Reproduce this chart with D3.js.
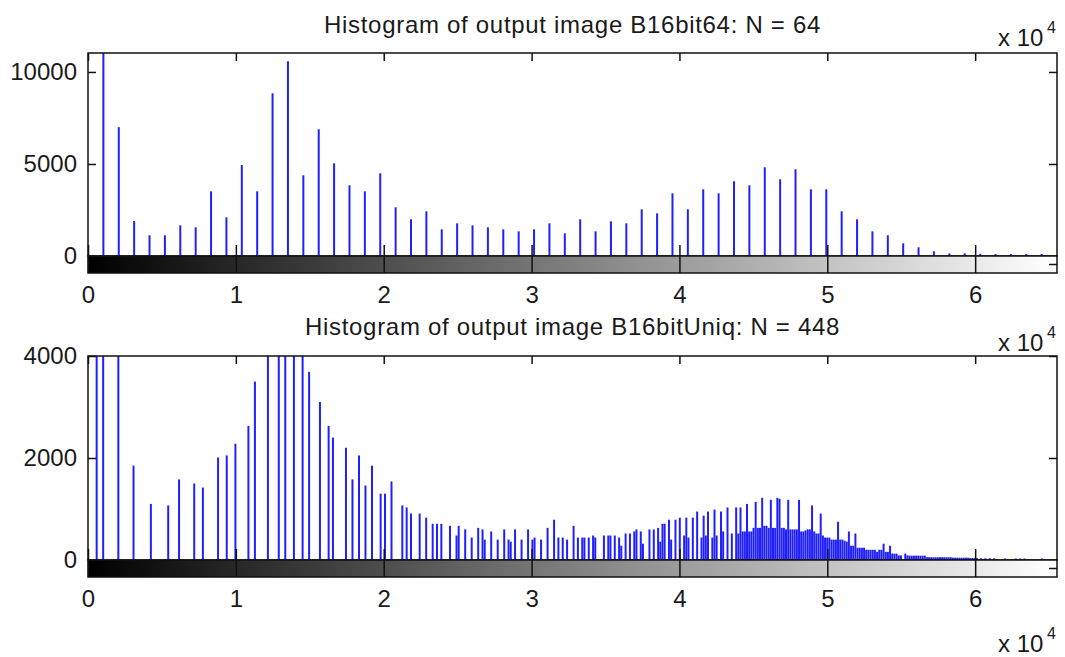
<!DOCTYPE html>
<html>
<head>
<meta charset="utf-8">
<script src="https://cdn.jsdelivr.net/npm/d3@7"></script>
<style>
  html, body { margin: 0; padding: 0; background: #fff; }
  svg { display: block; }
  text { font-family: "Liberation Sans", Arial, sans-serif; fill: #1a1a1a; }
</style>
</head>
<body>
<svg id="chart" width="1065" height="657"></svg>
<script>
// ---------------- DATA ----------------
const titleTop = "Histogram of output image B16bit64: N = 64";
const titleBottom = "Histogram of output image B16bitUniq: N = 448";
const xTickValues = [0, 10000, 20000, 30000, 40000, 50000, 60000];
const xTickLabels = ["0", "1", "2", "3", "4", "5", "6"];
const yTicksTop = [0, 5000, 10000];
const yTicksBottom = [0, 2000, 4000];
const nBinsTop = 64;
const nBinsBottom = 448;
const maxValue = 65535;

// counts for the 64-bin histogram (bin 0 .. 63)
const countsTop = [
  0, 11500, 7000, 1900, 1125, 1125, 1667, 1560, 3514, 2100,
  4946, 3514, 8841, 10580, 4384, 6884, 5036, 3841, 3514, 4493,
  2645, 1993, 2428, 1449, 1775, 1667, 1558, 1449, 1340, 1449,
  1775, 1232, 1993, 1340, 1884, 1775, 2536, 2319, 3406, 2536,
  3623, 3406, 4058, 3841, 4819, 4167, 4710, 3623, 3623, 2428,
  1993, 1340, 1125, 690, 473, 255, 145, 145, 120, 110,
  110, 110, 110, 0
];

// 448-bin histogram: occupied bin indices and their counts (all other bins are 0)
const binsBottom = [
  4, 7, 14, 21, 29, 37, 42, 49, 53, 60, 64, 68, 74, 77,
  83, 88, 91, 95, 99, 102, 107, 111, 113, 119, 122, 125, 128, 131, 135, 137, 140, 145, 147, 149, 153,
  156, 159, 161, 163, 167, 170, 171, 174, 177, 180, 182, 183, 186, 189, 192, 194, 195, 197, 200,
  203, 205, 206, 209, 212, 215, 217, 219, 221, 224, 226, 228, 229, 231,
  233, 234, 238, 240, 241, 243, 245, 246, 248, 250, 252, 253, 255, 256, 259, 261, 263, 264, 265, 266,
  268, 269, 271, 273, 275, 276, 277, 279, 281, 283, 284, 285, 286, 288, 289, 290, 292, 293, 295, 297,
  299, 300, 301, 302, 303, 304, 305, 306, 307, 308, 309, 310, 311, 312, 313, 314, 315, 316, 317, 318,
  319, 320, 321, 322, 323, 324, 325, 326, 327, 328, 329, 330, 331, 332, 333, 334, 335, 336, 337, 338,
  339, 340, 341, 342, 343, 344, 345, 346, 347, 348, 349, 350, 351, 352, 353, 354, 355, 356, 357, 358,
  359, 360, 361, 362, 363, 364, 365, 366, 367, 368, 369, 370, 371, 372, 373, 374, 375, 377, 378, 379,
  380, 381, 382, 383, 384, 385, 386, 387, 388, 389, 390, 391, 392, 393, 394, 395, 396, 397, 398, 399,
  400, 401, 402, 403, 404, 405, 406, 407, 408, 409, 410, 412, 414, 416, 418, 423, 428, 430, 432, 440
];
const countsBottom = [
  5200, 6000, 4800, 1850, 1100, 1070, 1580, 1500, 1420, 2010, 2050, 2280, 2630, 3500,
  4600, 4500, 5400, 5600, 4400, 3690, 3100, 2630, 2400, 2200, 1580, 2050, 1460, 1850, 1300, 1300, 1540, 1070, 1030, 910, 910,
  830, 710, 710, 710, 670, 480, 670, 600, 440, 630, 600, 400, 560, 400, 600, 400, 360, 600, 400,
  600, 400, 440, 400, 630, 790, 440, 440, 400, 670, 440, 440, 440, 440,
  480, 440, 480, 480, 480, 480, 440, 280, 520, 520, 560, 600, 560, 320, 600, 600, 630, 360, 710, 710,
  790, 400, 790, 830, 480, 830, 440, 830, 950, 440, 870, 480, 950, 440, 990, 480, 950, 560, 1030, 520,
  1030, 520, 1030, 560, 560, 1100, 560, 560, 630, 1140, 630, 630, 1220, 670, 670, 630, 1180, 630, 630, 1220,
  1200, 630, 630, 600, 1180, 600, 600, 600, 600, 1180, 560, 560, 580, 600, 600, 1070, 560, 520, 520, 910,
  480, 440, 440, 440, 400, 400, 400, 750, 400, 400, 380, 360, 560, 280, 280, 520, 240, 240, 240, 240,
  200, 200, 200, 200, 200, 160, 200, 200, 320, 160, 160, 280, 125, 125, 125, 90, 90, 125, 90, 85,
  85, 85, 85, 85, 85, 85, 85, 55, 55, 55, 55, 55, 55, 55, 55, 55, 55, 55, 55, 45,
  45, 45, 45, 45, 45, 45, 45, 40, 40, 40, 40, 35, 35, 35, 35, 30, 30, 30, 30, 30
];

// ---------------- LAYOUT ----------------
const svg = d3.select("#chart");
const W = 1065, H = 657;
svg.append("rect").attr("width", W).attr("height", H).attr("fill", "#fff");

const left = 88, right = 1057;
const panels = [
  { title: titleTop, top: 53, zero: 256, cbBottom: 273, yMax: 11030, yTicks: yTicksTop,
    nBins: nBinsTop, bins: countsTop.map((c, i) => i), counts: countsTop,
    titleY: 33, expY: 46 },
  { title: titleBottom, top: 356, zero: 560, cbBottom: 577, yMax: 4000, yTicks: yTicksBottom,
    nBins: nBinsBottom, bins: binsBottom, counts: countsBottom,
    titleY: 335, expY: 351 }
];

const x = d3.scaleLinear().domain([0, maxValue]).range([left, right]);

const defs = svg.append("defs");
const grad = defs.append("linearGradient").attr("id", "gray").attr("x1", "0%").attr("x2", "100%");
grad.append("stop").attr("offset", "0%").attr("stop-color", "#000");
grad.append("stop").attr("offset", "100%").attr("stop-color", "#fff");

const axisColor = "#111";
const fontSize = 24;

function expLabel(g, baseY) {
  g.append("text").attr("x", 998).attr("y", baseY).attr("font-size", fontSize).text("x 10");
  g.append("text").attr("x", 1047).attr("y", baseY - 13).attr("font-size", 16).text("4");
}

panels.forEach((p, pi) => {
  const g = svg.append("g");
  const y = d3.scaleLinear().domain([0, p.yMax]).range([p.zero, p.top]);

  defs.append("clipPath").attr("id", "clip" + pi)
    .append("rect").attr("x", left).attr("y", p.top).attr("width", right - left).attr("height", p.zero - p.top);

  // stems
  const binW = maxValue / (p.nBins - 1);
  g.append("g").attr("clip-path", `url(#clip${pi})`)
    .selectAll("line").data(p.bins.map((b, i) => ({ b, c: p.counts[i] })).filter(d => d.c > 0))
    .join("line")
    .attr("x1", d => x(d.b * binW)).attr("x2", d => x(d.b * binW))
    .attr("y1", y(0)).attr("y2", d => y(d.c))
    .attr("stroke", "#2020ff").attr("stroke-width", 2);

  // axes box
  g.append("rect").attr("x", left).attr("y", p.top).attr("width", right - left).attr("height", p.zero - p.top)
    .attr("fill", "none").attr("stroke", axisColor).attr("stroke-width", 1.5);

  const yl = g.append("g").attr("transform", `translate(${left},0)`)
    .call(d3.axisLeft(y).tickValues(p.yTicks).tickSize(-8).tickPadding(11).tickFormat(d3.format("d")));
  const yr = g.append("g").attr("transform", `translate(${right},0)`)
    .call(d3.axisRight(y).tickValues(p.yTicks).tickSize(-8).tickFormat(""));
  const xt = g.append("g").attr("transform", `translate(0,${p.top})`)
    .call(d3.axisTop(x).tickValues(xTickValues).tickSize(-8).tickFormat(""));

  // colorbar
  g.append("rect").attr("x", left).attr("y", p.zero).attr("width", right - left).attr("height", p.cbBottom - p.zero)
    .attr("fill", "url(#gray)").attr("stroke", axisColor).attr("stroke-width", 1.5);
  const xb = g.append("g").attr("transform", `translate(0,${p.cbBottom})`)
    .call(d3.axisBottom(x).tickValues(xTickValues).tickSize(-(p.cbBottom - p.zero + 11)).tickPadding(13)
      .tickFormat((d, i) => xTickLabels[i]));
  g.append("line").attr("x1", right - 8).attr("x2", right)
    .attr("y1", (p.zero + p.cbBottom) / 2).attr("y2", (p.zero + p.cbBottom) / 2)
    .attr("stroke", axisColor).attr("stroke-width", 1.5);

  [yl, yr, xt, xb].forEach(a => {
    a.select(".domain").remove();
    a.selectAll(".tick line").attr("stroke", axisColor).attr("stroke-width", 1.5);
    a.selectAll(".tick text").attr("font-size", fontSize).attr("fill", "#1a1a1a")
      .attr("font-family", '"Liberation Sans", Arial, sans-serif');
  });

  g.append("text").attr("x", (left + right) / 2).attr("y", p.titleY)
    .attr("text-anchor", "middle").attr("font-size", fontSize).attr("letter-spacing", "0.7px")
    .text(p.title);

  expLabel(g, p.expY);
});

// exponent for bottom colorbar axis
expLabel(svg.append("g"), 652);
</script>
</body>
</html>
